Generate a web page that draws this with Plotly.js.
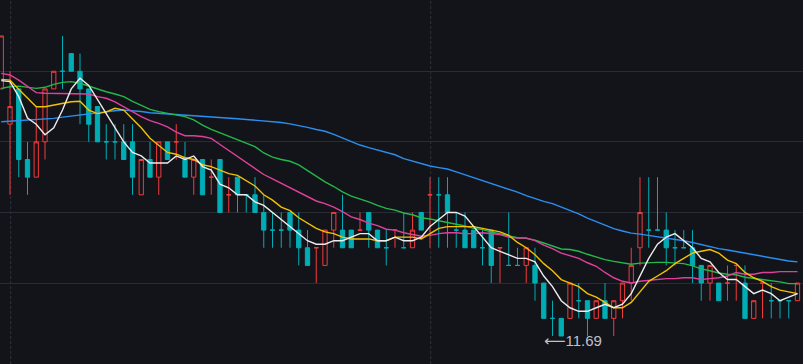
<!DOCTYPE html>
<html>
<head>
<meta charset="utf-8">
<script src="https://cdn.plot.ly/plotly-3.0.1.min.js"></script>
<style>
  html, body { margin: 0; padding: 0; background: #13141a; }
  #chart { width: 803px; height: 364px; }
</style>
</head>
<body>
<div id="chart"></div>
<script>
// ---- data ----
const openPrice = [11.83,11.81,11.83,11.79,11.78,11.80,11.83,11.84,11.85,11.84,11.83,11.82,11.80,11.80,11.80,11.80,11.77,11.79,11.78,11.80,
  11.80,11.79,11.78,11.79,11.78,11.79,11.77,11.78,11.77,11.77,11.76,11.75,11.75,11.76,11.75,11.74,11.74,11.73,11.75,11.75,
  11.75,11.75,11.76,11.75,11.74,11.75,11.74,11.74,11.76,11.77,11.77,11.77,11.75,11.75,11.75,11.74,11.75,11.74,11.73,11.73,
  11.73,11.73,11.72,11.70,11.70,11.70,11.71,11.71,11.70,11.71,11.70,11.71,11.72,11.74,11.75,11.75,11.75,11.74,11.74,11.74,
  11.73,11.72,11.72,11.72,11.73,11.72,11.70,11.72,11.71,11.71,11.71,11.71];
const highPrice = [11.86,11.84,11.83,11.80,11.82,11.83,11.84,11.86,11.85,11.85,11.83,11.82,11.81,11.81,11.81,11.81,11.79,11.80,11.80,11.80,
  11.81,11.80,11.79,11.79,11.79,11.79,11.78,11.78,11.77,11.78,11.77,11.76,11.76,11.76,11.76,11.75,11.74,11.75,11.76,11.77,
  11.75,11.76,11.76,11.75,11.75,11.75,11.76,11.76,11.76,11.78,11.78,11.78,11.76,11.76,11.75,11.75,11.75,11.74,11.76,11.74,
  11.74,11.74,11.72,11.71,11.70,11.72,11.72,11.71,11.71,11.72,11.71,11.72,11.74,11.78,11.78,11.78,11.76,11.75,11.75,11.75,
  11.73,11.73,11.72,11.73,11.73,11.73,11.71,11.72,11.72,11.71,11.71,11.72];
const lowPrice = [11.83,11.77,11.78,11.77,11.78,11.79,11.83,11.83,11.84,11.81,11.80,11.80,11.79,11.79,11.79,11.77,11.77,11.78,11.77,11.79,
  11.79,11.78,11.77,11.77,11.77,11.76,11.76,11.76,11.76,11.76,11.74,11.74,11.74,11.74,11.73,11.73,11.72,11.73,11.74,11.74,
  11.74,11.75,11.74,11.74,11.73,11.74,11.74,11.74,11.75,11.74,11.74,11.74,11.74,11.74,11.74,11.73,11.72,11.72,11.73,11.73,
  11.72,11.71,11.70,11.69,11.69,11.70,11.70,11.69,11.70,11.70,11.69,11.70,11.71,11.73,11.74,11.75,11.73,11.73,11.74,11.72,
  11.71,11.71,11.71,11.71,11.71,11.70,11.70,11.70,11.70,11.70,11.70,11.71];
const closePrice = [11.86,11.82,11.79,11.78,11.80,11.83,11.84,11.84,11.84,11.83,11.81,11.80,11.80,11.80,11.79,11.78,11.79,11.78,11.80,11.79,
  11.80,11.78,11.79,11.77,11.78,11.76,11.77,11.77,11.77,11.76,11.75,11.75,11.75,11.75,11.74,11.73,11.74,11.75,11.76,11.74,
  11.74,11.75,11.75,11.74,11.74,11.75,11.74,11.75,11.75,11.77,11.77,11.76,11.75,11.74,11.74,11.74,11.73,11.74,11.73,11.73,
  11.74,11.72,11.70,11.70,11.69,11.72,11.71,11.70,11.71,11.70,11.71,11.72,11.73,11.76,11.75,11.75,11.74,11.74,11.74,11.73,
  11.72,11.73,11.71,11.72,11.73,11.70,11.71,11.72,11.71,11.71,11.71,11.72];

const ma5 = [11.8347,11.8341,11.8256,11.8135,11.810,11.804,11.808,11.818,11.830,11.836,11.832,11.824,11.816,11.808,11.800,11.794,11.792,11.788,11.788,11.788,
  11.792,11.790,11.792,11.786,11.784,11.776,11.774,11.770,11.770,11.766,11.764,11.760,11.756,11.752,11.748,11.744,11.742,11.742,11.744,11.744,
  11.746,11.748,11.748,11.744,11.744,11.746,11.744,11.744,11.746,11.752,11.756,11.760,11.760,11.758,11.752,11.746,11.740,11.738,11.736,11.734,
  11.734,11.732,11.724,11.718,11.710,11.706,11.704,11.704,11.706,11.708,11.706,11.708,11.714,11.724,11.734,11.742,11.746,11.748,11.744,11.740,
  11.734,11.732,11.726,11.722,11.722,11.718,11.714,11.716,11.714,11.710,11.712,11.714];
const ma10 = [11.8354,11.8350,11.8298,11.8247,11.8199,11.8199,11.8209,11.8218,11.8227,11.823,11.818,11.816,11.817,11.819,11.818,11.813,11.808,11.802,11.798,11.794,
  11.793,11.791,11.790,11.787,11.786,11.784,11.782,11.781,11.778,11.775,11.770,11.767,11.763,11.761,11.757,11.754,11.751,11.749,11.748,11.746,
  11.745,11.745,11.745,11.744,11.744,11.746,11.746,11.746,11.745,11.748,11.751,11.752,11.752,11.752,11.752,11.751,11.750,11.749,11.747,11.743,
  11.740,11.736,11.731,11.727,11.722,11.720,11.718,11.714,11.712,11.709,11.706,11.706,11.709,11.715,11.721,11.724,11.727,11.731,11.734,11.737,
  11.738,11.739,11.737,11.733,11.731,11.726,11.723,11.721,11.718,11.716,11.715,11.714];
const ma20 = [11.8388,11.8379,11.835,11.8312,11.8279,11.8275,11.8275,11.8275,11.8275,11.8273,11.8271,11.8256,11.8247,11.8227,11.8199,11.817,11.8143,11.812,11.8105,11.8085,
  11.8055,11.8035,11.8035,11.803,11.802,11.7985,11.795,11.7915,11.788,11.7845,11.7815,11.779,11.7765,11.774,11.7715,11.769,11.7665,11.765,11.763,11.7605,
  11.7575,11.756,11.754,11.7525,11.7505,11.750,11.7485,11.7475,11.7465,11.747,11.748,11.7485,11.7485,11.748,11.748,11.7485,11.748,11.7475,11.746,11.7455,
  11.7455,11.744,11.7415,11.7395,11.737,11.7355,11.734,11.7315,11.7295,11.726,11.723,11.721,11.720,11.721,11.7215,11.722,11.7225,11.7225,11.723,11.723,
  11.722,11.7225,11.723,11.724,11.726,11.725,11.725,11.726,11.726,11.7265,11.7265,11.7265];
const ma30 = [11.8303,11.8312,11.8316,11.8309,11.8303,11.8309,11.8326,11.8337,11.8341,11.8332,11.8316,11.8298,11.8284,11.8271,11.8256,11.823,11.8209,11.8184,11.8171,11.8162,
  11.8152,11.8143,11.8124,11.8095,11.8071,11.8052,11.8033,11.8014,11.7995,11.7973,11.7937,11.7913,11.790,11.789,11.787,11.7837,11.7803,11.7773,11.7747,11.7717,
  11.7693,11.7677,11.766,11.764,11.7623,11.7613,11.7597,11.7587,11.757,11.7563,11.7553,11.7547,11.7533,11.7523,11.751,11.7503,11.749,11.748,11.7467,11.7457,
  11.7453,11.7443,11.7427,11.741,11.7393,11.739,11.738,11.7363,11.7347,11.7333,11.7323,11.7313,11.7307,11.7313,11.7317,11.7317,11.7317,11.7313,11.731,11.7297,
  11.728,11.727,11.7257,11.725,11.7247,11.7233,11.7227,11.722,11.7213,11.7207,11.7197,11.7197];
const ma60 = [11.8114,11.8117,11.812,11.8124,11.8128,11.813,11.8133,11.814,11.8146,11.8154,11.8162,11.8168,11.8173,11.8176,11.818,11.8178,11.8172,11.8165,11.8162,11.8158,
  11.8154,11.815,11.8146,11.8143,11.814,11.8137,11.8134,11.8131,11.8127,11.8123,11.812,11.8118,11.811,11.8102,11.8093,11.8082,11.807,11.806,11.8042,11.8022,
  11.8002,11.7982,11.7967,11.7953,11.794,11.7927,11.7905,11.789,11.7875,11.7863,11.7854,11.7846,11.783,11.7814,11.7797,11.778,11.7765,11.7746,11.773,11.7715,
  11.7695,11.7678,11.7663,11.765,11.7632,11.7613,11.7592,11.7568,11.7547,11.7525,11.7508,11.7495,11.7483,11.7477,11.747,11.7465,11.7457,11.745,11.744,11.743,
  11.7417,11.7408,11.7395,11.7387,11.7378,11.7368,11.7358,11.735,11.734,11.7332,11.7325,11.732];

const gridLevels = [11.72, 11.76, 11.80, 11.84, 11.88];  // horizontal price grid
const separatorSessions = [1, 49];                        // dashed period separators

// ---- build ----
const sessions = openPrice.map((_, i) => i);

// direction: close vs open; for doji compare with previous close
const up = [], down = [];
sessions.forEach(i => {
  const o = openPrice[i], c = closePrice[i];
  let isUp;
  if (c > o) isUp = true;
  else if (c < o) isUp = false;
  else isUp = i > 0 && c > closePrice[i - 1];
  (isUp ? up : down).push(i);
});
const pick = (arr, idx) => idx.map(i => arr[i]);

const RED = '#f23b3b', TEAL = '#00adb5';
function candleTrace(idx, color, fill) {
  return {
    type: 'candlestick',
    x: idx, open: pick(openPrice, idx), high: pick(highPrice, idx),
    low: pick(lowPrice, idx), close: pick(closePrice, idx),
    increasing: { line: { color: color, width: 1 }, fillcolor: fill },
    decreasing: { line: { color: color, width: 1 }, fillcolor: fill },
    whiskerwidth: 0, hoverinfo: 'skip', showlegend: false
  };
}
function maTrace(y, color, w) {
  return { type: 'scatter', mode: 'lines', x: sessions, y: y,
    line: { color: color, width: w }, hoverinfo: 'skip', showlegend: false };
}

const lowValue = Math.min(...lowPrice);
const lowIdx = lowPrice.indexOf(lowValue);

const data = [
  candleTrace(up, RED, 'rgba(0,0,0,0)'),
  candleTrace(down, TEAL, TEAL),
  maTrace(ma60, '#2a8ff0', 1.4),
  maTrace(ma30, '#22b84a', 1.4),
  maTrace(ma20, '#e0409c', 1.4),
  maTrace(ma10, '#f2c200', 1.4),
  maTrace(ma5, '#ececec', 1.4)
];

const layout = {
  width: 803, height: 364,
  margin: { l: 0, r: 0, t: 0, b: 0 },
  paper_bgcolor: '#13141a', plot_bgcolor: '#13141a',
  showlegend: false, boxgap: 0.3,
  xaxis: { range: [-0.143, 91.63], showgrid: false, zeroline: false, showticklabels: false,
           ticks: '', rangeslider: { visible: false }, fixedrange: true },
  yaxis: { range: [11.67414, 11.88037], tickmode: 'array', tickvals: gridLevels, showgrid: true,
           gridcolor: '#2a2c35', gridwidth: 1, zeroline: false, showticklabels: false,
           ticks: '', fixedrange: true },
  shapes: separatorSessions.map(s => ({
    type: 'line', xref: 'x', yref: 'paper', x0: s + 0.08, x1: s + 0.08, y0: 0, y1: 1,
    line: { color: '#30323c', width: 1, dash: '3px,2px' }, layer: 'below'
  })),
  annotations: [{
    x: lowIdx, y: lowValue, xref: 'x', yref: 'y',
    text: '<span style="font-family:DejaVu Sans">\u27F5</span>' + lowValue.toFixed(2),
    showarrow: false, xanchor: 'left', yanchor: 'middle',
    xshift: -10, yshift: -5,
    font: { family: 'Liberation Sans, Arial, sans-serif', size: 15, color: '#bfc2ca' }
  }]
};

Plotly.newPlot('chart', data, layout, { displayModeBar: false, staticPlot: true });
</script>
</body>
</html>
